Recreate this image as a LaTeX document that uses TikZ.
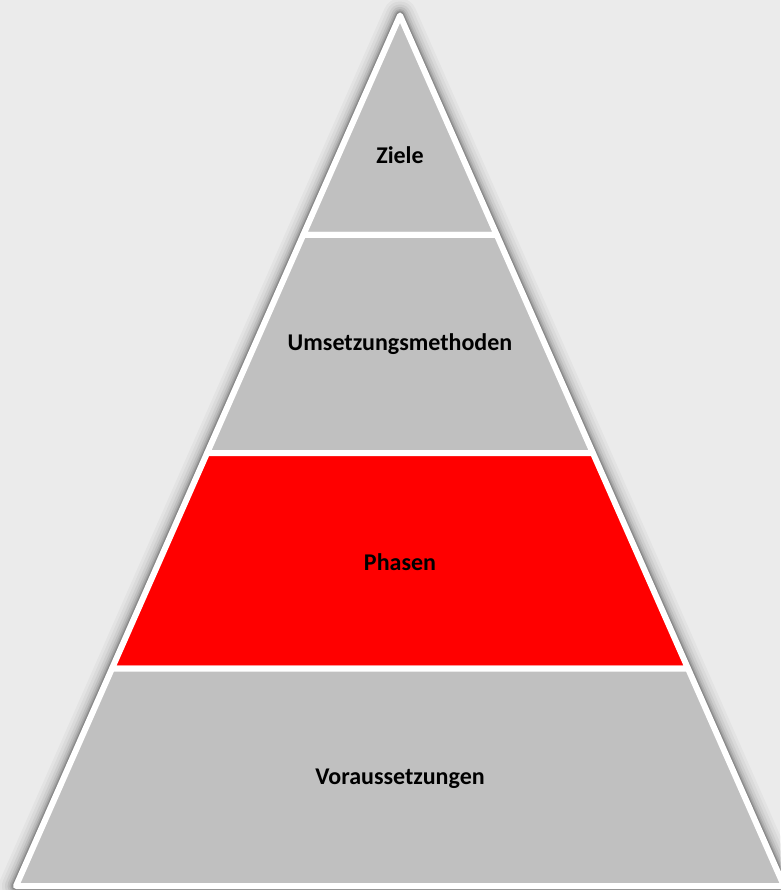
\documentclass[tikz,border=0pt]{standalone}
\usepackage{fontspec}
\setmainfont{Carlito}
\definecolor{bgc}{HTML}{EBEBEB}
\definecolor{band}{HTML}{C0C0C0}
\definecolor{hot}{HTML}{FF0000}
\tikzset{
  bandshape/.style={draw=white, line width=6pt, line join=round},
  lbl/.style={font=\fontsize{24}{28}\selectfont\bfseries, text=black, inner sep=0pt},
  shade/.style={draw=black, line join=round}
}
\begin{document}
\begin{tikzpicture}[x=1pt,y=-1pt]
\useasboundingbox (0,0) rectangle (780,890);
\fill[bgc] (0,0) rectangle (780,890);
% stroke centre-line corners
\coordinate (A) at (400,15.5);
\coordinate (L1) at (303.2,235);  \coordinate (R1) at (496.8,235);
\coordinate (L2) at (207.1,453);  \coordinate (R2) at (592.9,453);
\coordinate (L3) at (112,668.5);  \coordinate (R3) at (688,668.5);
\coordinate (L4) at (16,886);     \coordinate (R4) at (784,886);
% soft shadow
\foreach \w/\o in {34/0.03,28/0.04,22/0.05,17/0.07,13/0.09,10/0.11,8/0.13}{
  \draw[shade, line width=\w pt, opacity=\o] (A) -- (R4) -- (L4) -- cycle;
}
% bands
\draw[bandshape, fill=band] (A) -- (R1) -- (L1) -- cycle;
\draw[bandshape, fill=band] (L1) -- (R1) -- (R2) -- (L2) -- cycle;
\draw[bandshape, fill=hot] (L2) -- (R2) -- (R3) -- (L3) -- cycle;
\draw[bandshape, fill=band] (L3) -- (R3) -- (R4) -- (L4) -- cycle;
% labels
\node[lbl] (ziele) at (400,155) {Ziele};
\node[lbl] (umsetz) at (400,344) {Umsetzungsmethoden};
\node[lbl] (phasen) at (400,562) {Phasen};
\node[lbl] (vorauss) at (400,779) {Voraussetzungen};
\end{tikzpicture}
\end{document}
